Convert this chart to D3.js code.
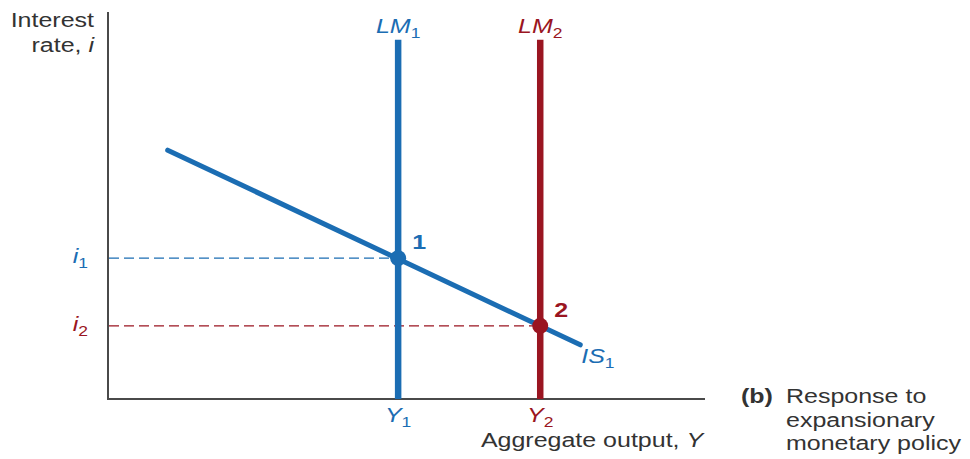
<!DOCTYPE html>
<html><head><meta charset="utf-8">
<script src="https://cdn.jsdelivr.net/npm/d3@7"></script>
<style>html,body{margin:0;padding:0;background:#fff;}svg{display:block;}</style>
</head><body>
<svg id="c" width="970" height="459"></svg>
<script>
// ---- data (abstract model units, 0-100) ----
const lmCurves = [
  {name: "LM", sub: "1", x: 48.6, top: 92.8, color: "#1b6db3"},
  {name: "LM", sub: "2", x: 72.4, top: 92.8, color: "#9a1521"}
];
const isCurve = [{x: 10.0, y: 64.3}, {x: 79.1, y: 14.0}];
const equilibria = [
  {label: "1", x: 48.6, y: 36.4, color: "#1b6db3", rateSub: "1", outSub: "1"},
  {label: "2", x: 72.4, y: 18.9, color: "#9a1521", rateSub: "2", outSub: "2"}
];
const axisLabels = {y: ["Interest", "rate, "], yVar: "i", x: "Aggregate output, ", xVar: "Y"};
const caption = ["Response to", "expansionary", "monetary policy"];

const svg = d3.select("#c");
const x = d3.scaleLinear().domain([0, 100]).range([108, 705]);
const y = d3.scaleLinear().domain([0, 100]).range([399, 12]);
const SX = 1.25; // horizontal text stretch like reference
const FS = 20;
const SUB = 14;

function txt(px, py, anchor) {
  const g = svg.append("g").attr("transform", `translate(${px},${py}) scale(${SX},1)`);
  const t = g.append("text").attr("font-family", "Liberation Sans, Arial, sans-serif")
    .attr("font-size", FS).attr("text-anchor", anchor || "start").attr("fill", "#333");
  return t;
}

// axes
svg.append("line").attr("x1", x(0)).attr("x2", x(0)).attr("y1", y(100)).attr("y2", y(0))
  .attr("stroke", "#4a4a4a").attr("stroke-width", 2);
svg.append("line").attr("x1", x(0) - 1).attr("x2", x(100)).attr("y1", y(0)).attr("y2", y(0))
  .attr("stroke", "#4a4a4a").attr("stroke-width", 2);

// dashed lines to equilibria
equilibria.forEach(d => {
  svg.append("line").attr("x1", x(0) + 1).attr("x2", x(d.x)).attr("y1", y(d.y)).attr("y2", y(d.y))
    .attr("stroke", d.color).attr("stroke-width", 1.4).attr("stroke-dasharray", "10,5");
});

// LM curves
lmCurves.forEach(d => {
  svg.append("line").attr("x1", x(d.x)).attr("x2", x(d.x)).attr("y1", y(d.top)).attr("y2", y(0))
    .attr("stroke", d.color).attr("stroke-width", 6.5);
  const t = txt(x(d.x), 33, "middle").attr("fill", d.color).attr("font-style", "italic");
  t.append("tspan").text(d.name);
  t.append("tspan").attr("font-size", SUB).attr("dy", 5).attr("font-style", "normal").text(d.sub);
});

// IS curve
svg.append("path").datum(isCurve)
  .attr("d", d3.line().x(d => x(d.x)).y(d => y(d.y)))
  .attr("stroke", "#1b6db3").attr("stroke-width", 5).attr("fill", "none").attr("stroke-linecap", "round");
{
  const t = txt(x(isCurve[1].x) + 1, y(isCurve[1].y) + 18, "start").attr("fill", "#1b6db3").attr("font-style", "italic");
  t.append("tspan").text("IS");
  t.append("tspan").attr("font-size", SUB).attr("dy", 5).attr("font-style", "normal").text("1");
}

// equilibrium points & labels
equilibria.forEach(d => {
  svg.append("circle").attr("cx", x(d.x)).attr("cy", y(d.y)).attr("r", 8).attr("fill", d.color);
  txt(x(d.x) + 14, y(d.y) - 9, "start").attr("fill", d.color).attr("font-weight", "bold").text(d.label);
  const ti = txt(x(0) - 20, y(d.y) + 5, "end").attr("fill", d.color).attr("font-style", "italic");
  ti.append("tspan").text("i");
  ti.append("tspan").attr("font-size", SUB).attr("dy", 5).attr("font-style", "normal").text(d.rateSub);
  const ty = txt(x(d.x), 422, "middle").attr("fill", d.color).attr("font-style", "italic");
  ty.append("tspan").text("Y");
  ty.append("tspan").attr("font-size", SUB).attr("dy", 5).attr("font-style", "normal").text(d.outSub);
});

// axis titles
txt(94, 27, "end").text(axisLabels.y[0]);
{
  const t = txt(94, 52, "end");
  t.append("tspan").text(axisLabels.y[1]);
  t.append("tspan").attr("font-style", "italic").text(axisLabels.yVar);
}
{
  const t = txt(592, 447, "middle");
  t.append("tspan").text(axisLabels.x);
  t.append("tspan").attr("font-style", "italic").text(axisLabels.xVar);
}

// caption
txt(741, 403, "start").attr("font-weight", "bold").text("(b)");
txt(786, 403, "start").text(caption[0]);
txt(786, 427, "start").text(caption[1]);
txt(786, 450, "start").text(caption[2]);
</script>
</body></html>
